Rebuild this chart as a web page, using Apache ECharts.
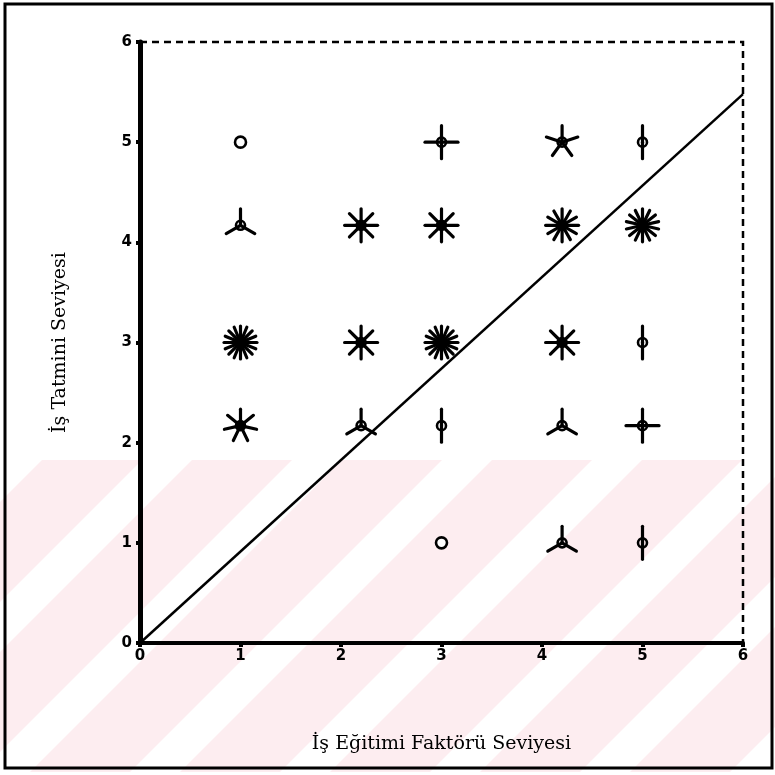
<!DOCTYPE html>
<html>
<head>
<meta charset="utf-8">
<script src="https://cdn.jsdelivr.net/npm/echarts@6/dist/echarts.min.js"></script>
<style>
  html, body { margin: 0; padding: 0; background: #fff; }
  #chart { width: 775px; height: 775px; }
</style>
</head>
<body>
<div id="chart"></div>
<script>
// Factor levels on each axis
const trainingLevels = [1, 2.2, 3, 4.2, 5];
const satisfactionLevels = [1, 2.17, 3, 4.17, 5];

// Number of respondents at each cell (one list per satisfaction level, ordered by training level)
const countsAt1 = [0, 0, 1, 3, 2];
const countsAt217 = [7, 3, 2, 3, 4];
const countsAt3 = [16, 8, 16, 8, 2];
const countsAt417 = [3, 8, 8, 12, 14];
const countsAt5 = [1, 0, 4, 5, 2];
const countRows = [countsAt1, countsAt217, countsAt3, countsAt417, countsAt5];

// Fitted line end points
const fitX = [0, 6];
const fitY = [0, 5.48];

const axisMin = 0, axisMax = 6, axisStep = 1;

const cells = [];
countRows.forEach((row, i) => {
  row.forEach((n, j) => {
    if (n > 0) cells.push([trainingLevels[j], satisfactionLevels[i], n]);
  });
});

// Sunflower glyph: one petal per respondent around a small ring
function renderSunflower(params, api) {
  const c = api.coord([api.value(0), api.value(1)]);
  const n = api.value(2);
  const R = 16.5;
  const children = [];
  if (n > 1) {
    for (let k = 0; k < n; k++) {
      const a = -Math.PI / 2 + k * 2 * Math.PI / n;
      children.push({
        type: 'line',
        shape: { x1: c[0], y1: c[1], x2: c[0] + R * Math.cos(a), y2: c[1] + R * Math.sin(a) },
        style: { stroke: '#000', lineWidth: 3.2, lineCap: 'round' }
      });
    }
  }
  children.push({
    type: 'circle',
    shape: { cx: c[0], cy: c[1], r: n > 1 ? 4.5 : 5.5 },
    style: { stroke: '#000', fill: n > 1 ? null : '#fff', lineWidth: 2.6 }
  });
  return { type: 'group', children };
}

// Light pink diagonal band pattern in the lower part of the page
const bands = [];
for (let a = -420; a < 800; a += 150) {
  bands.push({
    type: 'polygon',
    z: -10,
    silent: true,
    shape: { points: [[a, 772], [a + 100, 772], [a + 100 + 312, 460], [a + 312, 460]] },
    style: { fill: '#fdedf0' }
  });
}

const chart = echarts.init(document.getElementById('chart'));
chart.setOption({
  backgroundColor: '#fff',
  animation: false,
  graphic: [
    { type: 'group', z: -10, silent: true, children: bands },
    {
      type: 'rect', z: 100, silent: true,
      shape: { x: 5, y: 4, width: 767, height: 764 },
      style: { fill: null, stroke: '#000', lineWidth: 3 }
    }
  ],
  grid: {
    left: 140, right: 32, top: 42, bottom: 132,
    show: true, backgroundColor: 'transparent',
    borderColor: '#000', borderWidth: 2.5, borderType: [7, 5]
  },
  xAxis: {
    type: 'value', min: axisMin, max: axisMax, interval: axisStep,
    name: 'İş Eğitimi Faktörü Seviyesi', nameLocation: 'middle', nameGap: 92,
    nameTextStyle: { fontFamily: 'DejaVu Serif', fontSize: 19, color: '#000' },
    axisLine: { onZero: false, lineStyle: { color: '#000', width: 4 } },
    axisTick: { show: true, length: 4, lineStyle: { color: '#000', width: 4 } },
    axisLabel: { color: '#000', fontFamily: 'DejaVu Sans', fontWeight: 'bold', fontSize: 15, margin: 6 },
    splitLine: { show: false }
  },
  yAxis: {
    type: 'value', min: axisMin, max: axisMax, interval: axisStep,
    name: 'İş Tatmini Seviyesi', nameLocation: 'middle', nameGap: 70, nameRotate: 90,
    nameTextStyle: { fontFamily: 'DejaVu Serif', fontSize: 19, color: '#000' },
    axisLine: { onZero: false, lineStyle: { color: '#000', width: 5 } },
    axisTick: { show: true, length: 4, lineStyle: { color: '#000', width: 4 } },
    axisLabel: { color: '#000', fontFamily: 'DejaVu Sans', fontWeight: 'bold', fontSize: 15, margin: 8 },
    splitLine: { show: false }
  },
  series: [
    {
      type: 'custom',
      renderItem: renderSunflower,
      data: cells,
      clip: false,
      silent: true
    },
    {
      type: 'line',
      data: fitX.map((x, i) => [x, fitY[i]]),
      symbol: 'none',
      lineStyle: { color: '#000', width: 2.5 },
      silent: true,
      z: 3
    }
  ]
});
</script>
</body>
</html>
